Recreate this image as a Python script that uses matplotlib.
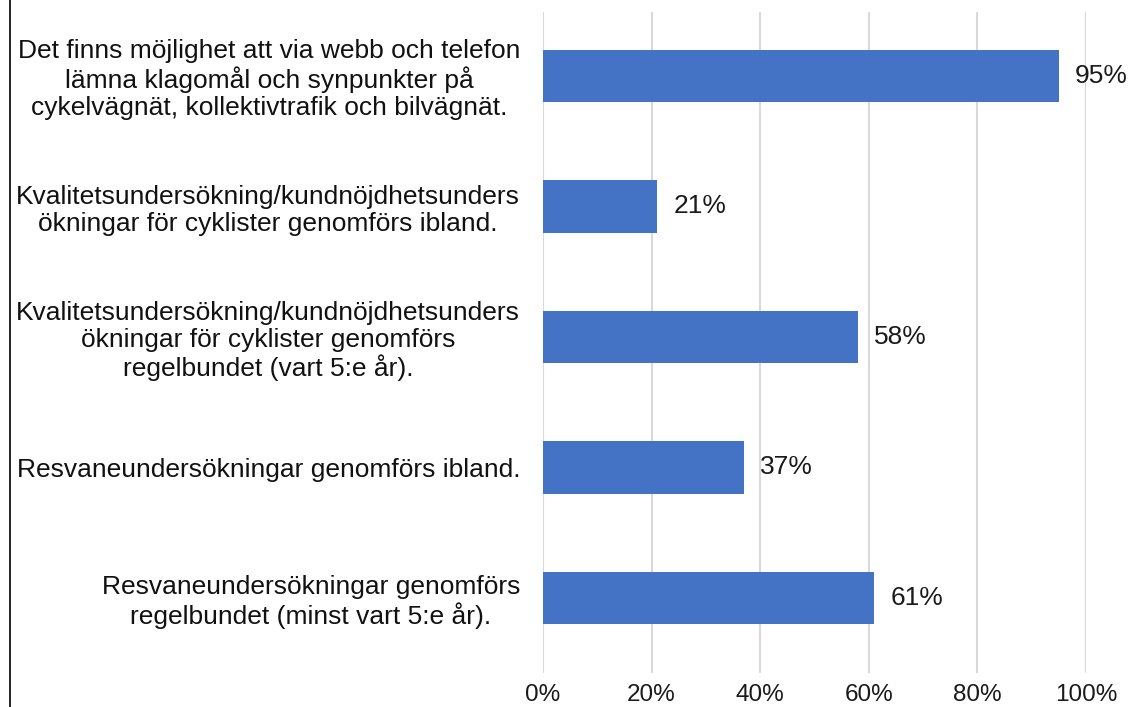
import matplotlib.pyplot as plt
from matplotlib.lines import Line2D

labels = [
    "Det finns möjlighet att via webb och telefon\nlämna klagomål och synpunkter på\ncykelvägnät, kollektivtrafik och bilvägnät.",
    "Kvalitetsundersökning/kundnöjdhetsunders\nökningar för cyklister genomförs ibland.",
    "Kvalitetsundersökning/kundnöjdhetsunders\nökningar för cyklister genomförs\nregelbundet (vart 5:e år).",
    "Resvaneundersökningar genomförs ibland.",
    "Resvaneundersökningar genomförs\nregelbundet (minst vart 5:e år).",
]
values = [95, 21, 58, 37, 61]
xticks = [0, 20, 40, 60, 80, 100]

plt.rcParams['font.family'] = ['Liberation Sans', 'DejaVu Sans']

fig = plt.figure(figsize=(11.32, 7.07), dpi=100)
ax = fig.add_axes([543 / 1132, 1 - 673 / 707, (1086 - 543) / 1132, 661 / 707])

pos = list(range(len(labels)))
ax.barh(pos, values, height=0.4, color='#4472C4', zorder=3)
for p, v in zip(pos, values):
    ax.text(v + 3, p, f"{v}%", va='center', ha='left', fontsize=19, color='#1a1a1a')

ax.set_ylim(4.575, -0.49)
ax.set_xlim(0, 100)
ax.set_xticks(xticks)
ax.set_xticklabels([f"{t}%" for t in xticks], fontsize=17.5, color='#1a1a1a')
ax.set_yticks(pos)
ax.set_yticklabels(labels, fontsize=19, color='#111111', multialignment='center',
                   linespacing=1.15)
ax.tick_params(axis='both', length=0)
ax.tick_params(axis='y', pad=16.5)
ax.tick_params(axis='x', pad=8)
ax.grid(axis='x', color='#D9D9D9', linewidth=1.5, zorder=0)
for s in ax.spines.values():
    s.set_visible(False)

# left frame edge
fig.add_artist(Line2D([10 / 1132, 10 / 1132], [0, 1], color='black', linewidth=1.2))

fig.savefig('out.png', dpi=100)
